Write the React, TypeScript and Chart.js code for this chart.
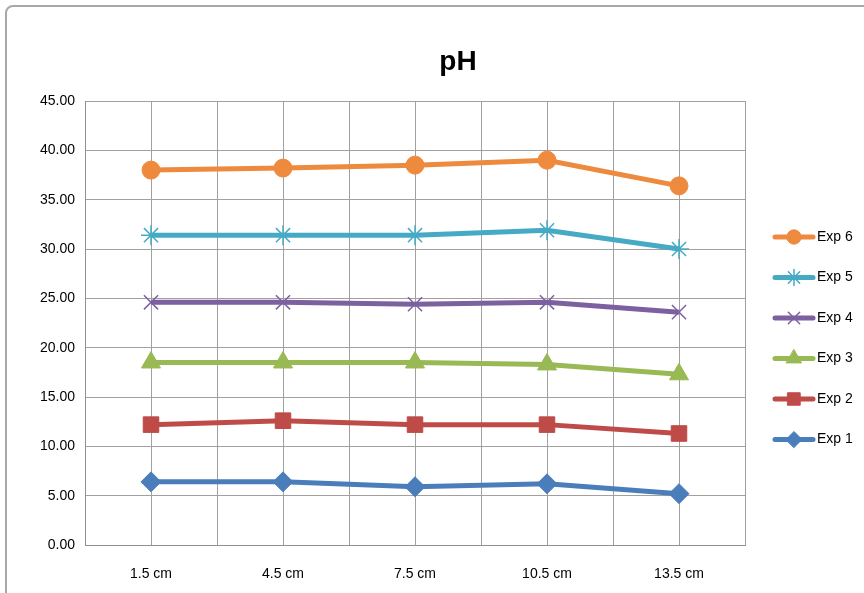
import React, { useEffect, useRef } from "react";
import { Chart, registerables } from "chart.js";
import { drawPoint } from "chart.js/helpers";

Chart.register(...registerables);

const categories = ["1.5 cm", "4.5 cm", "7.5 cm", "10.5 cm", "13.5 cm"];
const seriesNames = ["Exp 1", "Exp 2", "Exp 3", "Exp 4", "Exp 5", "Exp 6"];
const exp1 = [6.4, 6.4, 5.9, 6.2, 5.2];
const exp2 = [12.2, 12.6, 12.2, 12.2, 11.3];
const exp3 = [18.5, 18.5, 18.5, 18.3, 17.3];
const exp4 = [24.6, 24.6, 24.4, 24.6, 23.6];
const exp5 = [31.4, 31.4, 31.4, 31.9, 30.0];
const exp6 = [38.0, 38.2, 38.5, 39.0, 36.4];
const yMin = 0;
const yMax = 45;
const yStep = 5;
const titleText = "pH";

const seriesValues = [exp1, exp2, exp3, exp4, exp5, exp6];
const colors = ["#4A7EBB", "#BE4B48", "#98B954", "#7D60A0", "#46AAC5", "#EE8A3E"];
const pointStyles = ["rectRot", "rect", "triangle", "crossRot", "star", "circle"];
const pointRadii = [10, 11, 11, 10, 10, 9];
const pointBorders = [1, 1, 1, 1.5, 1.5, 1];

const FONT = '"Liberation Sans", Arial, sans-serif';

const overlayPlugin = {
  id: "overlay",
  afterDraw(chart: any) {
    const ctx = chart.ctx;
    ctx.save();
    // title
    ctx.fillStyle = "#000";
    ctx.font = `bold 28px ${FONT}`;
    ctx.textAlign = "center";
    ctx.textBaseline = "middle";
    ctx.fillText(titleText, 458, 62);
    // legend (reversed order)
    const startY = 237;
    const gap = 40.5;
    for (let k = 0; k < seriesNames.length; k++) {
      const i = seriesNames.length - 1 - k;
      const y = startY + k * gap;
      ctx.strokeStyle = colors[i];
      ctx.fillStyle = colors[i];
      ctx.lineWidth = 5;
      ctx.lineCap = "round";
      ctx.beginPath();
      ctx.moveTo(775, y);
      ctx.lineTo(813, y);
      ctx.stroke();
      ctx.lineWidth = pointBorders[i];
      drawPoint(ctx, {
        pointStyle: pointStyles[i],
        radius: pointRadii[i] * 0.8,
        rotation: 0,
        borderWidth: pointBorders[i],
      } as any, 794, y);
      ctx.fillStyle = "#000";
      ctx.font = `14px ${FONT}`;
      ctx.textAlign = "left";
      ctx.textBaseline = "middle";
      ctx.fillText(seriesNames[i], 817, y);
    }
    ctx.restore();
  },
};

export default function App() {
  const ref = useRef<HTMLCanvasElement | null>(null);

  useEffect(() => {
    if (!ref.current) return;
    const datasets = seriesNames.map((name, i) => ({
      label: name,
      data: seriesValues[i].map((v, j) => ({ x: j, y: v })),
      borderColor: colors[i],
      backgroundColor: colors[i],
      pointBackgroundColor: colors[i],
      pointBorderColor: colors[i],
      borderWidth: 5,
      pointStyle: pointStyles[i],
      pointRadius: pointRadii[i],
      pointBorderWidth: pointBorders[i],
      tension: 0,
    }));
    const chart = new Chart(ref.current, {
      type: "line",
      data: { datasets },
      plugins: [overlayPlugin],
      options: {
        animation: false,
        responsive: false,
        layout: { padding: { left: 0, right: 119, top: 101, bottom: 0 } },
        plugins: {
          legend: { display: false },
          title: { display: false },
          tooltip: { enabled: false },
        },
        scales: {
          x: {
            type: "linear",
            min: -0.5,
            max: categories.length - 0.5,
            afterFit: (s: any) => {
              s.height = 48;
            },
            ticks: {
              stepSize: 0.5,
              autoSkip: false,
              maxRotation: 0,
              padding: 21,
              color: "#000",
              font: { family: FONT, size: 14 },
              callback: (v: any) => {
                const n = Number(v);
                const r = Math.round(n);
                return Math.abs(n - r) < 1e-6 && r >= 0 && r < categories.length ? categories[r] : "";
              },
            },
            grid: { color: "#a0a0a0", lineWidth: 1, drawTicks: false },
            border: { color: "#909090", width: 1 },
          },
          y: {
            min: yMin,
            max: yMax,
            afterFit: (s: any) => {
              s.width = 85;
            },
            ticks: {
              stepSize: yStep,
              padding: 10,
              color: "#000",
              font: { family: FONT, size: 14 },
              callback: (v: any) => Number(v).toFixed(2),
            },
            grid: { color: "#a0a0a0", lineWidth: 1, drawTicks: false },
            border: { color: "#909090", width: 1 },
          },
        },
      } as any,
    });
    return () => chart.destroy();
  }, []);

  return (
    <div style={{ position: "fixed", left: 0, top: 0, width: 864, height: 593, overflow: "hidden", background: "#fff" }}>
      <div
        style={{
          position: "absolute",
          left: 5,
          top: 5,
          width: 900,
          height: 640,
          border: "2px solid #a8a8a8",
          borderRadius: 8,
          boxSizing: "border-box",
        }}
      />
      <canvas ref={ref} width={864} height={593} style={{ position: "absolute", left: 0, top: 0 }} />
    </div>
  );
}
